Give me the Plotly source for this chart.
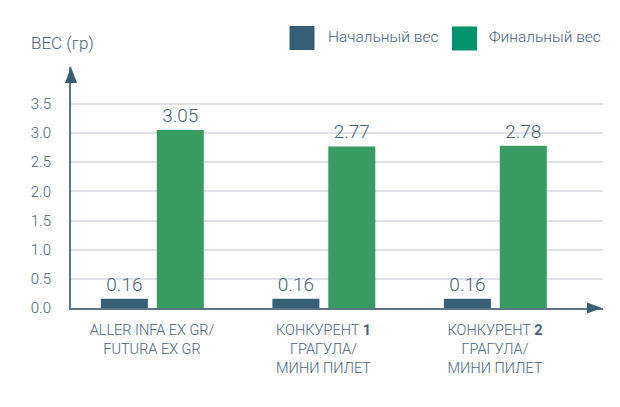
import plotly.graph_objects as go

# ---- data ----
categories = [
    "ALLER INFA EX GR/<br>FUTURA EX GR",
    "КОНКУРЕНТ <b>1</b><br>ГРАГУЛА/<br>МИНИ ПИЛЕТ",
    "КОНКУРЕНТ <b>2</b><br>ГРАГУЛА/<br>МИНИ ПИЛЕТ",
]
initial_weight = [0.16, 0.16, 0.16]
final_weight = [3.05, 2.77, 2.78]
series_names = ["Начальный вес", "Финальный вес"]
y_ticks = [0.0, 0.5, 1.0, 1.5, 2.0, 2.5, 3.0, 3.5]
y_title = "ВЕС (гр)"

# ---- style ----
OFF = 8  # page body margin
W, H = 604, 391
# screen-coordinate layout of the plot area
SX0, SX1, SY0, SY1 = 71, 603, 67, 308
L, T = SX0 - OFF, SY0 - OFF
R = W - (SX1 - OFF)
B = H - (SY1 - OFF)
PW, PH = SX1 - SX0, SY1 - SY0
DARK = "#365e74"
GREEN = "#389b62"
LEG_GREEN = "#00936b"
TXT = "#48637a"
AXIS = "#5d7487"
GRID = "#dfe1e6"
FONT = "Roboto"


def px(x):
    return (x - SX0) / PW


def py(y):
    return (SY1 - y) / PH


fig = go.Figure()
fig.add_trace(go.Bar(
    x=categories, y=initial_weight, name=series_names[0],
    marker=dict(color=DARK, line=dict(width=0)),
    width=0.274, offset=-0.298,
    text=[f"{v:.2f}" for v in initial_weight], textposition="outside",
    textfont=dict(family=FONT, size=19, color=TXT, weight=300),
    constraintext="none", cliponaxis=False, showlegend=False,
))
fig.add_trace(go.Bar(
    x=categories, y=final_weight, name=series_names[1],
    marker=dict(color=GREEN, line=dict(width=0)),
    width=0.274, offset=0.028,
    text=[f"{v:.2f}" for v in final_weight], textposition="outside",
    textfont=dict(family=FONT, size=19, color=TXT, weight=300),
    constraintext="none", cliponaxis=False, showlegend=False,
))

shapes = []
# y-axis arrowhead
shapes.append(dict(type="path", xref="paper", yref="paper",
                   path=f"M{px(71)},{py(67)} L{px(65)},{py(83)} L{px(77)},{py(83)} Z",
                   fillcolor=DARK, line=dict(width=0)))
# x-axis arrowhead
shapes.append(dict(type="path", xref="paper", yref="paper",
                   path=f"M{px(602)},{py(308)} L{px(587)},{py(302.5)} L{px(587)},{py(313.5)} Z",
                   fillcolor=DARK, line=dict(width=0)))
# legend swatches
shapes.append(dict(type="rect", xref="paper", yref="paper",
                   x0=px(289.5), x1=px(314.5), y0=py(50), y1=py(26),
                   fillcolor=DARK, line=dict(width=0)))
shapes.append(dict(type="rect", xref="paper", yref="paper",
                   x0=px(452), x1=px(477), y0=py(50.5), y1=py(26.5),
                   fillcolor=LEG_GREEN, line=dict(width=0)))

annotations = [
    dict(text=series_names[0], xref="paper", yref="paper", x=px(326), y=py(37),
         xanchor="left", yanchor="middle", showarrow=False,
         font=dict(family=FONT, size=15.5, color=TXT, weight=300)),
    dict(text=series_names[1], xref="paper", yref="paper", x=px(487), y=py(37),
         xanchor="left", yanchor="middle", showarrow=False,
         font=dict(family=FONT, size=15.5, color=TXT, weight=300)),
    dict(text=y_title, xref="paper", yref="paper", x=px(29), y=py(43),
         xanchor="left", yanchor="middle", showarrow=False,
         font=dict(family=FONT, size=17, color=TXT, weight=300)),
]

fig.update_layout(
    width=W, height=H,
    margin=dict(l=L, r=R, t=T, b=B, pad=0),
    paper_bgcolor="white", plot_bgcolor="white",
    barmode="group",
    shapes=shapes, annotations=annotations,
    font=dict(family=FONT, color=TXT),
)
fig.update_xaxes(
    range=[-(152 - SX0) / 171.5, (SX1 - 152) / 171.5],
    showline=True, linecolor=AXIS, linewidth=2,
    showgrid=False, zeroline=False, ticks="",
    tickfont=dict(family=FONT, size=14.5, color=TXT, weight=300),
    ticklabelstandoff=8,
)
fig.update_yaxes(
    range=[0, PH / 58.33],
    tickvals=y_ticks, ticktext=[f"{v:.1f}" for v in y_ticks],
    showline=True, linecolor=AXIS, linewidth=2,
    showgrid=True, gridcolor=GRID, gridwidth=2,
    zeroline=False, ticks="",
    tickfont=dict(family=FONT, size=15, color=TXT, weight=300),
    ticklabelstandoff=15,
)

fig.write_html("out.html")
